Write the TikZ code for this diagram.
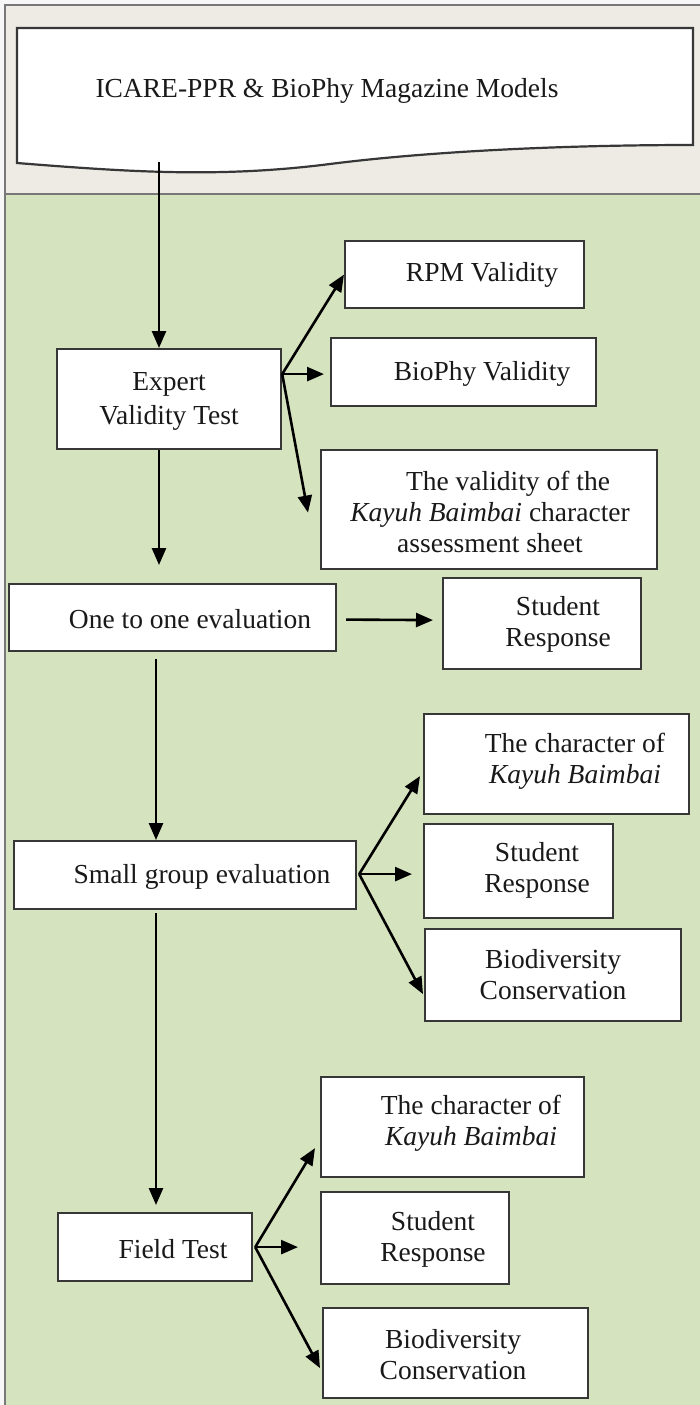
\documentclass[tikz,border=0pt]{standalone}
\usepackage{fontspec}
\setmainfont{Liberation Serif}
\usetikzlibrary{arrows.meta,calc}
\definecolor{bggreen}{RGB}{214,227,191}
\definecolor{bgbeige}{RGB}{237,235,227}
\definecolor{framegray}{RGB}{120,120,120}
\definecolor{boxline}{RGB}{55,55,55}
\definecolor{txtcol}{RGB}{25,25,25}
\begin{document}
\begin{tikzpicture}[x=1pt,y=-1pt,
  box/.style={draw=boxline,line width=2.2pt,fill=white,anchor=north west,inner sep=0pt},
  txt/.style={font=\fontsize{27.5}{31}\selectfont,align=center,inner sep=0pt,text=txtcol},
  arr/.style={draw=black,line width=2.6pt,-{Triangle[length=17pt,width=14pt]}},
]
\useasboundingbox (0,0) rectangle (700,1405);
\fill[white!94!gray] (0,0) rectangle (700,1405);
\fill[bgbeige] (5,5) rectangle (700,194);
\fill[bggreen] (5,194) rectangle (700,1405);
\draw[framegray,line width=2pt] (5,1405) -- (5,5) -- (700,5);
\draw[framegray,line width=2pt] (5,194) -- (700,194);

% document shape
\draw[boxline,line width=2.2pt,fill=white] (17,28) -- (693,28) -- (693,145)
  .. controls (550,145) and (420,152.5) .. (330,164)
  .. controls (220,178) and (130,172) .. (17,163) -- cycle;
\node[txt] (doc) at (327,91) {ICARE-PPR \& BioPhy Magazine Models};
\coordinate (docb) at (159,162);
\coordinate (xb) at (156,0);

% boxes
\node[box,minimum width=224pt,minimum height=100pt] (expert) at (56,348) {};
\node[box,minimum width=239pt,minimum height=67pt] (rpm) at (344,240) {};
\node[box,minimum width=265pt,minimum height=68pt] (biophy) at (330,337) {};
\node[box,minimum width=336pt,minimum height=119pt] (sheet) at (320,449) {};
\node[box,minimum width=327pt,minimum height=67pt] (one) at (8,583) {};
\node[box,minimum width=198pt,minimum height=91pt] (stu1) at (442,577) {};
\node[box,minimum width=342pt,minimum height=68pt] (small) at (13,840) {};
\node[box,minimum width=265pt,minimum height=100pt] (char2) at (423,713) {};
\node[box,minimum width=189pt,minimum height=94pt] (stu2) at (423,823) {};
\node[box,minimum width=256pt,minimum height=92pt] (bio2) at (424,928) {};
\node[box,minimum width=194pt,minimum height=68pt] (field) at (57,1212) {};
\node[box,minimum width=263pt,minimum height=100pt] (char3) at (320,1076) {};
\node[box,minimum width=188pt,minimum height=92pt] (stu3) at (320,1191) {};
\node[box,minimum width=265pt,minimum height=90pt] (bio3) at (322,1307) {};

% texts
\node[txt,font=\fontsize{27.5}{34}\selectfont] (texpert) at (169,401) {Expert\\Validity Test};
\node[txt] (trpm) at (482,275) {RPM Validity};
\node[txt] (tbiophy) at (482,374) {BioPhy Validity};
\node[txt] (tsheet) at (490,512) {\hspace*{36pt}The validity of the\\\textit{Kayuh Baimbai} character\\assessment sheet};
\node[txt] (tone) at (190,619) {One to one evaluation};
\node[txt] (tstu1) at (558,624) {Student\\Response};
\node[txt] (tsmall) at (202,877) {Small group evaluation};
\node[txt] (tchar2) at (575,761) {The character of\\\textit{Kayuh Baimbai}};
\node[txt] (tstu2) at (537,870) {Student\\Response};
\node[txt] (tbio2) at (553,975) {Biodiversity\\Conservation};
\node[txt] (tfield) at (173,1249) {Field Test};
\node[txt] (tchar3) at (471,1123) {The character of\\\textit{Kayuh Baimbai}};
\node[txt] (tstu3) at (433,1239) {Student\\Response};
\node[txt] (tbio3) at (453,1355) {Biodiversity\\Conservation};

% connectors
\draw[arr] (docb) -- (docb |- expert.north);
\draw[arr] ($(expert.east)+(0,-25)$) -- (rpm.west);
\draw[arr] ($(expert.east)+(0,-25)$) -- ($(biophy.west)+(-6,2)$);
\draw[arr] ($(expert.east)+(0,-25)$) -- ($(sheet.west)+(-12,3)$);
\draw[arr] (docb |- expert.south) -- ($(docb |- one.north)+(0,-18)$);
\draw[arr] ($(one.east)+(9,2)$) -- ($(stu1.west)+(-9,-3.5)$);
\draw[arr] ($(one.south -| xb)+(0,7)$) -- (small.north -| xb);
\draw[arr] ($(small.east)+(2,-1)$) -- ($(char2.west)+(-3,12)$);
\draw[arr] ($(small.east)+(2,-1)$) -- ($(stu2.west)+(-11,3)$);
\draw[arr] ($(small.east)+(2,-1)$) -- ($(bio2.west)+(-1,19)$);
\draw[arr] ($(small.south -| xb)+(0,3)$) -- ($(field.north -| xb)+(0,-7)$);
\draw[arr] ($(field.east)+(2,0)$) -- ($(char3.west)+(-5,21)$);
\draw[arr] ($(field.east)+(2,0)$) -- ($(stu3.west)+(-22,9)$);
\draw[arr] ($(field.east)+(2,0)$) -- ($(bio3.west)+(-2,15)$);
\end{tikzpicture}
\end{document}
